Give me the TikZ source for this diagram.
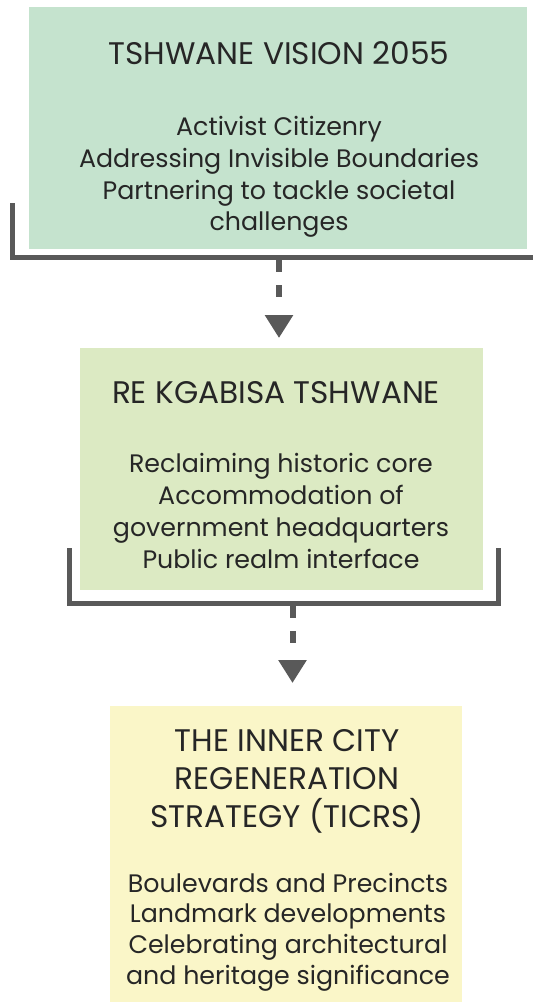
\documentclass[tikz,border=0pt]{standalone}
\usepackage{fontspec}
\setmainfont{Poppins}
\usetikzlibrary{arrows.meta}
\definecolor{visiongreen}{HTML}{C5E3CE}
\definecolor{kgabisagreen}{HTML}{DCEAC3}
\definecolor{ticrsyellow}{HTML}{FAF6C8}
\definecolor{bracketgray}{HTML}{595959}
\definecolor{inkgray}{HTML}{262626}
\begin{document}
\begin{tikzpicture}[x=1pt,y=-1pt,
  panel/.style={rectangle,inner sep=0pt,draw=none},
  titletext/.style={anchor=base,inner sep=0pt,text=inkgray,font=\fontsize{31.2}{36}\selectfont},
  bodytext/.style={anchor=base,inner sep=0pt,text=inkgray,font=\fontsize{25.3}{30}\selectfont},
  bracket/.style={draw=bracketgray,line width=5pt,line cap=butt,line join=miter},
  flow/.style={draw=bracketgray,line width=6pt,dash pattern=on 12pt off 13pt on 12pt off 20pt,
    -{Triangle[width=27pt,length=23pt]}},
]
\useasboundingbox (0,0) rectangle (533,1005);

% panels
\node[panel,fill=visiongreen,minimum width=498pt,minimum height=242pt] (vision) at (278,128) {};
\node[panel,fill=kgabisagreen,minimum width=403pt,minimum height=242pt] (kgabisa) at (281.5,469) {};
\node[panel,fill=ticrsyellow,minimum width=352pt,minimum height=296pt] (ticrs) at (286,854) {};

% Tshwane Vision 2055
\node[titletext] (v0) at (279,64) {TSHWANE VISION 2055};
\node[bodytext] (v1) at (279,135) {Activist Citizenry};
\node[bodytext] (v2) at (279,167) {Addressing Invisible Boundaries};
\node[bodytext] (v3) at (279,199) {Partnering to tackle societal};
\node[bodytext] (v4) at (279,230) {challenges};

% Re Kgabisa Tshwane
\node[titletext] (k0) at (276,403) {RE KGABISA TSHWANE};
\node[bodytext] (k1) at (281,472) {Reclaiming historic core};
\node[bodytext] (k2) at (281,504) {Accommodation of};
\node[bodytext] (k3) at (281,536) {government headquarters};
\node[bodytext] (k4) at (281,568) {Public realm interface};

% TICRS
\node[titletext] (t0) at (287,751) {THE INNER CITY};
\node[titletext] (t1) at (287,789) {REGENERATION};
\node[titletext] (t2) at (287,827) {STRATEGY (TICRS)};
\node[bodytext] (t3) at (288,892) {Boulevards and Precincts};
\node[bodytext] (t4) at (288,922) {Landmark developments};
\node[bodytext] (t5) at (288,953) {Celebrating architectural};
\node[bodytext] (t6) at (288,984) {and heritage significance};

% brackets under the first two panels
\coordinate (b1top) at (12.5,203);
\coordinate (b1corner) at (12.5,257.5);
\coordinate (b1end) at (533,257.5);
\draw[bracket] (b1top) -- (b1corner) -- (b1end);

\coordinate (b2left) at (69.5,548);
\coordinate (b2lc) at (69.5,603);
\coordinate (b2rc) at (498.5,603);
\coordinate (b2right) at (498.5,548);
\draw[bracket] (b2left) -- (b2lc) -- (b2rc) -- (b2right);

% dashed flow arrows
\coordinate (f1s) at (279,260);
\coordinate (f1e) at (279,338);
\coordinate (f2s) at (292.5,606);
\coordinate (f2e) at (292.5,683);
\draw[flow] (f1s) -- (f1e);
\draw[flow] (f2s) -- (f2e);
\end{tikzpicture}
\end{document}
